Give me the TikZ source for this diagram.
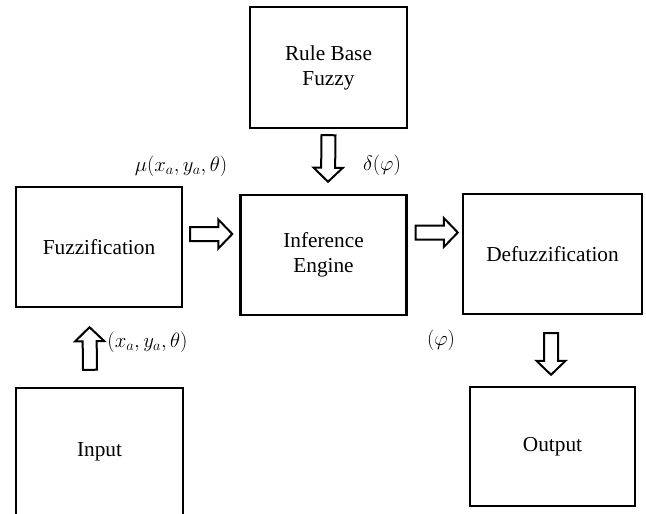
\documentclass[tikz,border=0pt]{standalone}
\usepackage{fontspec}
\setmainfont{Liberation Serif}
\usetikzlibrary{calc}
\tikzset{
  blk/.style={draw=black, line width=2.4pt, fill=white, inner sep=0pt, align=center,
    font=\fontsize{21.3}{25}\selectfont},
  arrowline/.style={draw=black, line width=2pt, line join=miter, fill=white},
  lbl/.style={inner sep=0pt, font=\fontsize{21.3}{25}\selectfont}
}
\newcommand\blockarr[2]{%
  \coordinate (ba-s) at #1;
  \coordinate (ba-e) at #2;
  \coordinate (ba-h) at ($(ba-e)!14pt!(ba-s)$);
  \draw[arrowline] ($(ba-s)!7pt!90:(ba-e)$) -- ($(ba-h)!7pt!-90:(ba-s)$)
    -- ($(ba-h)!14.5pt!-90:(ba-s)$) -- (ba-e) -- ($(ba-h)!14.5pt!90:(ba-s)$)
    -- ($(ba-h)!7pt!90:(ba-s)$) -- ($(ba-s)!7pt!-90:(ba-e)$) -- cycle;}
\begin{document}
\begin{tikzpicture}[x=1pt, y=-1pt]
  \useasboundingbox (0,0) rectangle (646,514);
  \clip (0,0) rectangle (646,514);
  \fill[white] (0,0) rectangle (646,514);

  \node[blk, minimum width=157pt, minimum height=121pt] (rule) at (328.5,67.5) {Rule Base\\Fuzzy};
  \node[blk, minimum width=166pt, minimum height=120pt] (fuzz) at (99,247) {Fuzzification};
  \node[blk, minimum width=166pt, minimum height=120pt] (inf) at (323.5,255) {Inference\\Engine};
  \node[blk, minimum width=179pt, minimum height=120pt] (defuzz) at (552.5,254) {Defuzzification};
  \node[blk, minimum width=167pt, minimum height=128pt] (input) at (99.5,452) {Input};
  \node[blk, minimum width=165pt, minimum height=119pt] (output) at (552.5,446.5) {Output};

  % connectors
  \blockarr{([shift={(7pt,13pt)}]fuzz.east)}{([shift={(-7pt,21pt)}]inf.west)}
  \blockarr{([shift={(8pt,22.5pt)}]inf.east)}{([shift={(-4pt,21.5pt)}]defuzz.west)}
  \blockarr{([shift={(0pt,-6pt)}]rule.south)}{([shift={(4.5pt,12pt)}]inf.north)}
  \blockarr{([shift={(-9.5pt,17pt)}]input.north)}{([shift={(-9.5pt,-19pt)}]fuzz.south)}
  \blockarr{([shift={(-1.5pt,-18pt)}]defuzz.south)}{([shift={(-1.5pt,11pt)}]output.north)}

  % labels
  \node[lbl] (lmu) at (181,166) {$\mu(x_a, y_a, \theta)$};
  \node[lbl] (ldelta) at (382,165) {$\delta(\varphi)$};
  \node[lbl] (lxy) at (147.5,342) {$(x_a, y_a, \theta)$};
  \node[lbl] (lphi) at (441,340) {$(\varphi)$};
\end{tikzpicture}
\end{document}
